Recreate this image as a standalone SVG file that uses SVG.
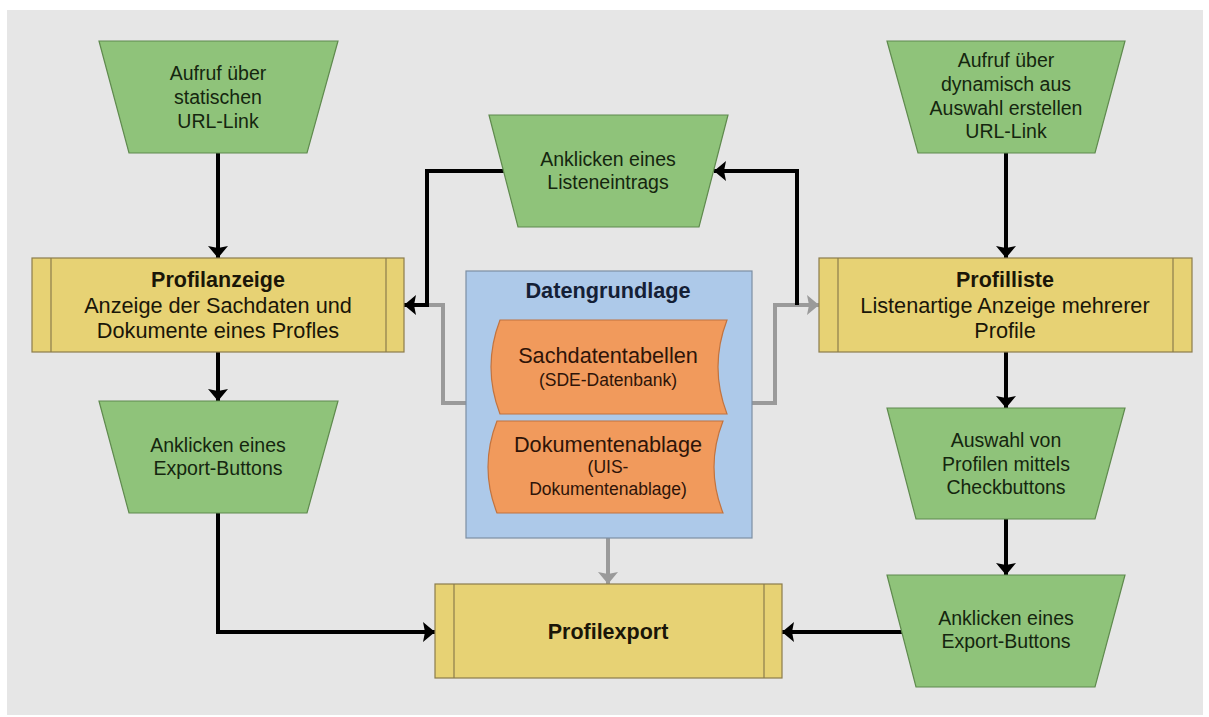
<svg xmlns="http://www.w3.org/2000/svg" width="1209" height="717" viewBox="0 0 1209 717">
  <style>
    text { font-family: "Liberation Sans", Arial, sans-serif; text-anchor: middle; }
    .io { fill: #8fc37a; stroke: #5f8a4e; stroke-width: 1.2; }
    .io-t { font-size: 19.5px; fill: #15260f; }
    .proc { fill: #e7d274; stroke: #8c7c4c; stroke-width: 1.2; }
    .proc-l { fill: none; stroke: #8c7c4c; stroke-width: 1.2; }
    .proc-h { font-size: 21.5px; font-weight: bold; fill: #1a1608; }
    .proc-t { font-size: 21.7px; fill: #1a1608; }
    .db { fill: #adc9e9; stroke: #7d8fa3; stroke-width: 1.2; }
    .db-h { font-size: 21.7px; font-weight: bold; fill: #142036; }
    .store { fill: #f19a5c; stroke: #c2733e; stroke-width: 1.2; }
    .store-h { font-size: 21.7px; fill: #2e1408; }
    .store-t { font-size: 17.5px; fill: #2e1408; }
    .flow { fill: none; stroke: #000; stroke-width: 4; stroke-linejoin: miter; }
    .data { fill: none; stroke: #9a9a9a; stroke-width: 4; stroke-linejoin: miter; }
  </style>
  <defs>
    <marker id="ah-black" markerUnits="userSpaceOnUse" viewBox="0 0 12 20" refX="12" refY="10" markerWidth="12" markerHeight="20" orient="auto">
      <path d="M0,0 L12,10 L0,20 L2,10 z" fill="#000"/>
    </marker>
    <marker id="ah-gray" markerUnits="userSpaceOnUse" viewBox="0 0 12 20" refX="12" refY="10" markerWidth="12" markerHeight="20" orient="auto">
      <path d="M0,0 L12,10 L0,20 L2,10 z" fill="#9a9a9a"/>
    </marker>
  </defs>

  <!-- canvas -->
  <rect x="0" y="0" width="1209" height="717" fill="#ffffff"/>
  <rect x="7" y="10" width="1196" height="705" fill="#e6e6e6"/>

  <!-- connectors -->
  <g id="connectors">
    <!-- data feeds (gray) -->
    <path class="data" d="M466,403 H443 V305 H426"/>
    <path class="data" d="M752,403 H775 V305 H819" marker-end="url(#ah-gray)"/>
    <path class="data" d="M608,538 V584" marker-end="url(#ah-gray)"/>
    <!-- control flow (black) -->
    <path class="flow" d="M218,153 V258" marker-end="url(#ah-black)"/>
    <path class="flow" d="M218,352 V401" marker-end="url(#ah-black)"/>
    <path class="flow" d="M218,513 V632 H435" marker-end="url(#ah-black)"/>
    <path class="flow" d="M504,171 H427 V305 H404" marker-end="url(#ah-black)"/>
    <path class="flow" d="M797,305 V171 H714" marker-end="url(#ah-black)"/>
    <path class="flow" d="M1006,153 V258" marker-end="url(#ah-black)"/>
    <path class="flow" d="M1006,352 V408" marker-end="url(#ah-black)"/>
    <path class="flow" d="M1006,519 V575" marker-end="url(#ah-black)"/>
    <path class="flow" d="M902,632 H782" marker-end="url(#ah-black)"/>
  </g>

  <!-- entry via static link -->
  <g id="aufruf-statisch">
    <polygon class="io" points="99,41 338,41 307,153 129,153"/>
    <text class="io-t" x="218" y="80">Aufruf über</text>
    <text class="io-t" x="218" y="104">statischen</text>
    <text class="io-t" x="218" y="128">URL-Link</text>
  </g>

  <!-- entry via generated link -->
  <g id="aufruf-dynamisch">
    <polygon class="io" points="887,41 1125,41 1095,153 918,153"/>
    <text class="io-t" x="1006" y="67">Aufruf über</text>
    <text class="io-t" x="1006" y="91">dynamisch aus</text>
    <text class="io-t" x="1006" y="115">Auswahl erstellen</text>
    <text class="io-t" x="1006" y="138">URL-Link</text>
  </g>

  <!-- click on list entry -->
  <g id="listeneintrag">
    <polygon class="io" points="489,115 728,115 699,227 518,227"/>
    <text class="io-t" x="608" y="166">Anklicken eines</text>
    <text class="io-t" x="608" y="189">Listeneintrags</text>
  </g>

  <!-- profile view -->
  <g id="profilanzeige">
    <rect class="proc" x="32" y="258" width="372" height="94"/>
    <line class="proc-l" x1="51" y1="258" x2="51" y2="352"/>
    <line class="proc-l" x1="386" y1="258" x2="386" y2="352"/>
    <text class="proc-h" x="218" y="287">Profilanzeige</text>
    <text class="proc-t" x="218" y="313">Anzeige der Sachdaten und</text>
    <text class="proc-t" x="218" y="338">Dokumente eines Profles</text>
  </g>

  <!-- profile list -->
  <g id="profilliste">
    <rect class="proc" x="819" y="258" width="373" height="94"/>
    <line class="proc-l" x1="838" y1="258" x2="838" y2="352"/>
    <line class="proc-l" x1="1173" y1="258" x2="1173" y2="352"/>
    <text class="proc-h" x="1005" y="287">Profilliste</text>
    <text class="proc-t" x="1005" y="313">Listenartige Anzeige mehrerer</text>
    <text class="proc-t" x="1005" y="338">Profile</text>
  </g>

  <!-- data basis -->
  <g id="datengrundlage">
    <rect class="db" x="466" y="271" width="286" height="267"/>
    <text class="db-h" x="608" y="298">Datengrundlage</text>
    <g id="sachdatentabellen">
      <path class="store" d="M500,320 H727 Q709,367 727,414 H500 Q482,367 500,320 z"/>
      <text class="store-h" x="608" y="363">Sachdatentabellen</text>
      <text class="store-t" x="608" y="386">(SDE-Datenbank)</text>
    </g>
    <g id="dokumentenablage">
      <path class="store" d="M497,421 H723 Q705,467 723,513 H497 Q479,467 497,421 z"/>
      <text class="store-h" x="608" y="452">Dokumentenablage</text>
      <text class="store-t" x="608" y="473">(UIS-</text>
      <text class="store-t" x="608" y="495">Dokumentenablage)</text>
    </g>
  </g>

  <!-- export button, left -->
  <g id="export-links">
    <polygon class="io" points="99,401 338,401 307,513 129,513"/>
    <text class="io-t" x="218" y="452">Anklicken eines</text>
    <text class="io-t" x="218" y="475">Export-Buttons</text>
  </g>

  <!-- selection via checkbuttons -->
  <g id="auswahl">
    <polygon class="io" points="887,408 1125,408 1095,519 916,519"/>
    <text class="io-t" x="1006" y="447">Auswahl von</text>
    <text class="io-t" x="1006" y="471">Profilen mittels</text>
    <text class="io-t" x="1006" y="494">Checkbuttons</text>
  </g>

  <!-- export button, right -->
  <g id="export-rechts">
    <polygon class="io" points="887,575 1125,575 1095,687 916,687"/>
    <text class="io-t" x="1006" y="625">Anklicken eines</text>
    <text class="io-t" x="1006" y="648">Export-Buttons</text>
  </g>

  <!-- profile export -->
  <g id="profilexport">
    <rect class="proc" x="435" y="584" width="347" height="94"/>
    <line class="proc-l" x1="454" y1="584" x2="454" y2="678"/>
    <line class="proc-l" x1="764" y1="584" x2="764" y2="678"/>
    <text class="proc-h" x="608" y="639">Profilexport</text>
  </g>
</svg>
